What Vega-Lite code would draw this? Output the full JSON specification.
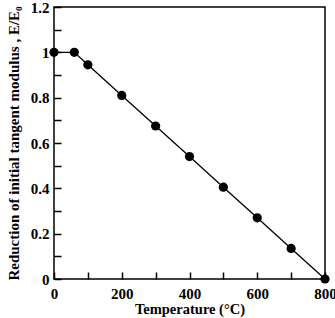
{
  "$schema": "https://vega.github.io/schema/vega-lite/v6.json",
  "width": 271,
  "height": 272,
  "autosize": "none",
  "padding": {"left": 54, "top": 7, "right": 10, "bottom": 39},
  "background": "white",
  "config": {
    "view": {"stroke": "black", "strokeWidth": 1.5},
    "font": "Liberation Serif"
  },
  "data": {
    "values": [
      {"t": 0, "r": 1.0},
      {"t": 60, "r": 1.0},
      {"t": 100, "r": 0.945},
      {"t": 200, "r": 0.81},
      {"t": 300, "r": 0.675},
      {"t": 400, "r": 0.54},
      {"t": 500, "r": 0.405},
      {"t": 600, "r": 0.27},
      {"t": 700, "r": 0.135},
      {"t": 800, "r": 0.0}
    ]
  },
  "encoding": {
    "x": {
      "field": "t", "type": "quantitative",
      "scale": {"domain": [0, 800], "nice": false},
      "axis": {
        "title": "Temperature (\u00b0C)",
        "zindex": 1,
        "offset": -7,
        "domain": false,
        "values": [0, 100, 200, 300, 400, 500, 600, 700, 800],
        "labelExpr": "datum.value % 200 === 0 ? datum.label : ''",
        "grid": false,
        "tickColor": "black", "tickWidth": 1.5,
        "tickSize": 7,
        "encode": {"ticks": {"update": {"y": {"signal": "datum.value % 200 === 0 ? 0 : 3"}}}},
        "labelFont": "Liberation Serif", "labelFontWeight": "bold", "labelFontSize": 15, "labelColor": "black",
        "labelPadding": 7, "labelFlush": false,
        "titleFont": "Liberation Serif", "titleFontWeight": "bold", "titleFontSize": 14.5, "titleColor": "black",
        "titlePadding": 1
      }
    },
    "y": {
      "field": "r", "type": "quantitative",
      "scale": {"domain": [0, 1.2], "nice": false},
      "axis": {
        "title": "Reduction of initial tangent modulus , E/E\u2080",
        "zindex": 1,
        "offset": -7,
        "domain": false,
        "values": [0, 0.1, 0.2, 0.3, 0.4, 0.5, 0.6, 0.7, 0.8, 0.9, 1.0, 1.1, 1.2],
        "format": ".1~f",
        "labelExpr": "round(datum.value*10) % 2 === 0 ? datum.label : ''",
        "grid": false,
        "tickColor": "black", "tickWidth": 1.5,
        "tickSize": 7,
        "encode": {"ticks": {"update": {"x": {"signal": "round(datum.value*10) % 2 === 0 ? 0 : -3"}}}},
        "labelFont": "Liberation Serif", "labelFontWeight": "bold", "labelFontSize": 15, "labelColor": "black",
        "labelPadding": 5, "labelFlush": false,
        "titleFont": "Liberation Serif", "titleFontWeight": "bold", "titleFontSize": 15, "titleColor": "black",
        "titlePadding": 9
      }
    }
  },
  "layer": [
    {"mark": {"type": "line", "color": "black", "strokeWidth": 1.3, "clip": false}},
    {"mark": {"type": "point", "filled": true, "color": "black", "opacity": 1, "size": 85, "clip": false}}
  ]
}
